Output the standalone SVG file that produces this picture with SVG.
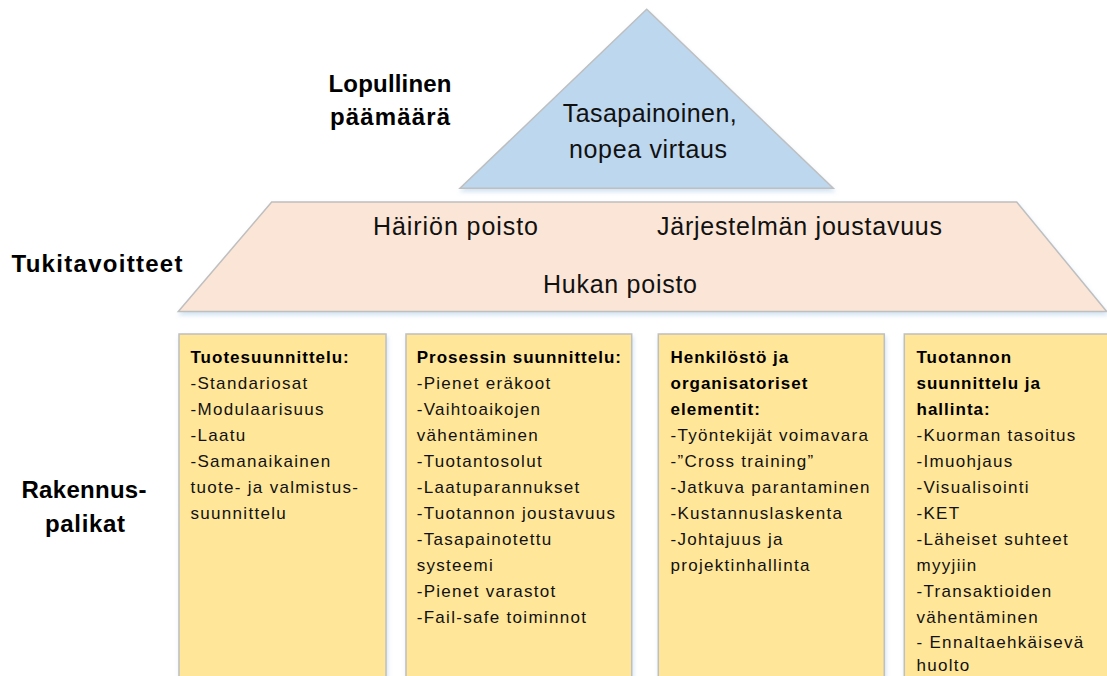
<svg xmlns="http://www.w3.org/2000/svg" width="1107" height="676" viewBox="0 0 1107 676">
<style>
  .shape { stroke: #bfbfbf; stroke-width: 1.5; }
  .tri { fill: #bdd7ee; }
  .trap { fill: #fbe5d6; }
  .box { fill: #ffe699; }
  .big { font-family: "Liberation Sans", Arial, sans-serif; font-size: 25px; fill: #111; }
  .lbl { font-family: "Liberation Sans", Arial, sans-serif; font-size: 24px; font-weight: bold; fill: #000; text-anchor: middle; }
  .item { font-family: "Liberation Sans", Arial, sans-serif; font-size: 17px; letter-spacing: 1.3px; fill: #111; }
  .head { font-family: "Liberation Sans", Arial, sans-serif; font-size: 17px; font-weight: bold; letter-spacing: 1px; fill: #000; }
</style>
<defs>
  <filter id="sh" x="-5%" y="-5%" width="115%" height="120%">
    <feDropShadow dx="1" dy="3" stdDeviation="2" flood-color="#9dc3e6" flood-opacity="0.45"/>
  </filter>
</defs>
<rect width="1107" height="676" fill="#ffffff"/>

<g id="labels">
  <text class="lbl" x="390" y="92" textLength="123" lengthAdjust="spacing">Lopullinen</text>
  <text class="lbl" x="390" y="125" textLength="120" lengthAdjust="spacing">päämäärä</text>
  <text class="lbl" x="97" y="272" textLength="171" lengthAdjust="spacing">Tukitavoitteet</text>
  <text class="lbl" x="84" y="498" textLength="125" lengthAdjust="spacing">Rakennus-</text>
  <text class="lbl" x="85" y="532" textLength="80" lengthAdjust="spacing">palikat</text>
</g>

<g id="goal">
  <polygon class="shape tri" filter="url(#sh)" points="646.7,9.3 833.3,188.3 460,188.3"/>
  <text class="big" x="562.7" y="122" textLength="174" lengthAdjust="spacing">Tasapainoinen,</text>
  <text class="big" x="569" y="158" textLength="158" lengthAdjust="spacing">nopea virtaus</text>
</g>

<g id="support">
  <polygon class="shape trap" filter="url(#sh)" points="271.7,202 1016.7,202 1106.7,311.5 178.3,311.5"/>
  <text class="big" x="373" y="235" textLength="165" lengthAdjust="spacing">Häiriön poisto</text>
  <text class="big" x="657" y="235" textLength="285" lengthAdjust="spacing">Järjestelmän joustavuus</text>
  <text class="big" x="543" y="293" textLength="154" lengthAdjust="spacing">Hukan poisto</text>
</g>

<g id="box1">
  <rect class="shape box" filter="url(#sh)" x="179" y="334" width="207" height="360"/>
  <text x="190.5" y="363">
    <tspan class="head" x="190.5" y="363">Tuotesuunnittelu:</tspan>
    <tspan class="item" x="190.5" y="389">-Standariosat</tspan>
    <tspan class="item" x="190.5" y="415">-Modulaarisuus</tspan>
    <tspan class="item" x="190.5" y="441">-Laatu</tspan>
    <tspan class="item" x="190.5" y="467">-Samanaikainen</tspan>
    <tspan class="item" x="190.5" y="493">tuote- ja valmistus-</tspan>
    <tspan class="item" x="190.5" y="519">suunnittelu</tspan>
  </text>
</g>

<g id="box2">
  <rect class="shape box" filter="url(#sh)" x="406" y="334" width="225.7" height="360"/>
  <text x="416.7" y="363">
    <tspan class="head" x="416.7" y="363">Prosessin suunnittelu:</tspan>
    <tspan class="item" x="416.7" y="389">-Pienet eräkoot</tspan>
    <tspan class="item" x="416.7" y="415">-Vaihtoaikojen</tspan>
    <tspan class="item" x="416.7" y="441">vähentäminen</tspan>
    <tspan class="item" x="416.7" y="467">-Tuotantosolut</tspan>
    <tspan class="item" x="416.7" y="493">-Laatuparannukset</tspan>
    <tspan class="item" x="416.7" y="519">-Tuotannon joustavuus</tspan>
    <tspan class="item" x="416.7" y="545">-Tasapainotettu</tspan>
    <tspan class="item" x="416.7" y="571">systeemi</tspan>
    <tspan class="item" x="416.7" y="597">-Pienet varastot</tspan>
    <tspan class="item" x="416.7" y="623">-Fail-safe toiminnot</tspan>
  </text>
</g>

<g id="box3">
  <rect class="shape box" filter="url(#sh)" x="658.3" y="334" width="226" height="360"/>
  <text x="670.5" y="363">
    <tspan class="head" x="670.5" y="363">Henkilöstö ja</tspan>
    <tspan class="head" x="670.5" y="389">organisatoriset</tspan>
    <tspan class="head" x="670.5" y="415">elementit:</tspan>
    <tspan class="item" x="670.5" y="441">-Työntekijät voimavara</tspan>
    <tspan class="item" x="670.5" y="467">-”Cross training”</tspan>
    <tspan class="item" x="670.5" y="493">-Jatkuva parantaminen</tspan>
    <tspan class="item" x="670.5" y="519">-Kustannuslaskenta</tspan>
    <tspan class="item" x="670.5" y="545">-Johtajuus ja</tspan>
    <tspan class="item" x="670.5" y="571">projektinhallinta</tspan>
  </text>
</g>

<g id="box4">
  <rect class="shape box" filter="url(#sh)" x="904.3" y="334" width="215" height="360"/>
  <text x="916.5" y="363">
    <tspan class="head" x="916.5" y="363">Tuotannon</tspan>
    <tspan class="head" x="916.5" y="389">suunnittelu ja</tspan>
    <tspan class="head" x="916.5" y="415">hallinta:</tspan>
    <tspan class="item" x="916.5" y="441">-Kuorman tasoitus</tspan>
    <tspan class="item" x="916.5" y="467">-Imuohjaus</tspan>
    <tspan class="item" x="916.5" y="493">-Visualisointi</tspan>
    <tspan class="item" x="916.5" y="519">-KET</tspan>
    <tspan class="item" x="916.5" y="545">-Läheiset suhteet</tspan>
    <tspan class="item" x="916.5" y="571">myyjiin</tspan>
    <tspan class="item" x="916.5" y="597">-Transaktioiden</tspan>
    <tspan class="item" x="916.5" y="623">vähentäminen</tspan>
    <tspan class="item" x="916.5" y="648">- Ennaltaehkäisevä</tspan>
    <tspan class="item" x="916.5" y="671">huolto</tspan>
  </text>
</g>

<g id="connectors"></g>
</svg>
